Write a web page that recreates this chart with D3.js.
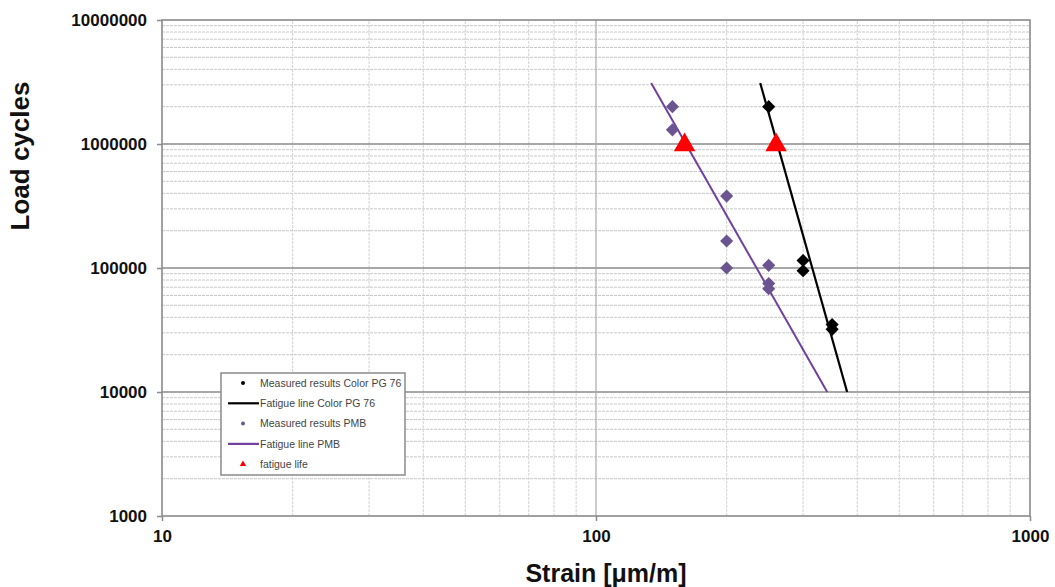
<!DOCTYPE html>
<html>
<head>
<meta charset="utf-8">
<script src="https://cdn.jsdelivr.net/npm/d3@7"></script>
<style>
  body { margin: 0; background: #fff; }
  svg { display: block; font-family: "Liberation Sans", Arial, sans-serif; }
</style>
</head>
<body>
<div id="chart"></div>
<script>
// values (strain in µm/m, load cycles)
const pmbStrain = [150, 150, 200, 200, 200, 250, 250, 250];
const pmbCycles = [2000000, 1300000, 380000, 165000, 100000, 105000, 75000, 68000];

const pgStrain = [250, 300, 300, 350, 350];
const pgCycles = [2000000, 115000, 95000, 35000, 32000];

const pmbLineStrain = [134, 341];
const pmbLineCycles = [3100000, 10000];

const pgLineStrain = [239, 379];
const pgLineCycles = [3100000, 10000];

const lifeStrain = [160, 260];
const lifeCycles = [1000000, 1000000];

const xTicks = [10, 100, 1000];
const yTicks = [1000, 10000, 100000, 1000000, 10000000];

const legendItems = [
  { label: 'Measured results Color PG 76', kind: 'dot', color: '#000' },
  { label: 'Fatigue line Color PG 76', kind: 'line', color: '#000' },
  { label: 'Measured results PMB', kind: 'dot', color: '#6b5590' },
  { label: 'Fatigue line PMB', kind: 'line', color: '#7040a0' },
  { label: 'fatigue life', kind: 'tri', color: '#ff0000' }
];

const W = 1055, H = 587;
const margin = { top: 20, right: 25, bottom: 71, left: 162 };

const svg = d3.select('#chart').append('svg')
  .attr('width', W).attr('height', H);

const x = d3.scaleLog().domain([10, 1000]).range([margin.left, W - margin.right]);
const y = d3.scaleLog().domain([1000, 10000000]).range([H - margin.bottom, margin.top]);

const x0 = x.range()[0], x1 = x.range()[1];
const y0 = y.range()[0], y1 = y.range()[1];

// minor grid
const minorX = [], minorY = [];
[10, 100].forEach(d => { for (let k = 2; k < 10; k++) minorX.push(d * k); });
[1000, 10000, 100000, 1000000].forEach(d => { for (let k = 2; k < 10; k++) minorY.push(d * k); });

svg.append('g')
  .selectAll('line')
  .data(minorY)
  .join('line')
  .attr('x1', x0).attr('x2', x1)
  .attr('y1', d => y(d)).attr('y2', d => y(d))
  .attr('stroke', '#c8c8c8')
  .attr('stroke-width', 1)
  .attr('stroke-dasharray', '3,1');

svg.append('g')
  .selectAll('line')
  .data(minorX)
  .join('line')
  .attr('x1', d => x(d)).attr('x2', d => x(d))
  .attr('y1', y0).attr('y2', y1)
  .attr('stroke', '#d2d2d2')
  .attr('stroke-width', 1)
  .attr('stroke-dasharray', '3,1');

// major grid
svg.append('g')
  .selectAll('line')
  .data(yTicks.slice(1, -1))
  .join('line')
  .attr('x1', x0).attr('x2', x1)
  .attr('y1', d => y(d)).attr('y2', d => y(d))
  .attr('stroke', '#8a8a8a')
  .attr('stroke-width', 1.6);

svg.append('g')
  .selectAll('line')
  .data(xTicks.slice(1, -1))
  .join('line')
  .attr('x1', d => x(d)).attr('x2', d => x(d))
  .attr('y1', y0).attr('y2', y1)
  .attr('stroke', '#a8a8a8')
  .attr('stroke-width', 1.2);

// frame
svg.append('rect')
  .attr('x', x0).attr('y', y1)
  .attr('width', x1 - x0).attr('height', y0 - y1)
  .attr('fill', 'none')
  .attr('stroke', '#8a8a8a')
  .attr('stroke-width', 1.6);

// axes
const xAxis = svg.append('g')
  .attr('transform', `translate(0,${y0})`)
  .call(d3.axisBottom(x).tickValues(xTicks).tickFormat(d3.format('d')).tickSize(5).tickPadding(9));
const yAxis = svg.append('g')
  .attr('transform', `translate(${x0},0)`)
  .call(d3.axisLeft(y).tickValues(yTicks).tickFormat(d3.format('d')).tickSize(5).tickPadding(10));

[xAxis, yAxis].forEach(a => {
  a.select('.domain').remove();
  a.selectAll('.tick line').attr('stroke', '#8a8a8a').attr('stroke-width', 1.5);
  a.selectAll('.tick text')
    .attr('fill', '#111')
    .style('font-size', '17px')
    .style('font-weight', 'bold');
});

// axis titles
svg.append('text')
  .attr('x', 606)
  .attr('y', 582)
  .attr('text-anchor', 'middle')
  .style('font-size', '25px')
  .style('font-weight', 'bold')
  .attr('fill', '#111')
  .text('Strain [\u03bcm/m]');

svg.append('text')
  .attr('transform', 'translate(29,156) rotate(-90)')
  .attr('text-anchor', 'middle')
  .style('font-size', '26px')
  .style('font-weight', 'bold')
  .attr('fill', '#111')
  .text('Load cycles');

// fatigue lines
const line = d3.line().x(d => x(d[0])).y(d => y(d[1]));

svg.append('path')
  .datum(d3.zip(pmbLineStrain, pmbLineCycles))
  .attr('d', line)
  .attr('fill', 'none')
  .attr('stroke', '#7040a0')
  .attr('stroke-width', 2);

svg.append('path')
  .datum(d3.zip(pgLineStrain, pgLineCycles))
  .attr('d', line)
  .attr('fill', 'none')
  .attr('stroke', '#000')
  .attr('stroke-width', 2.2);

// measured points
const diamond = d3.symbol().type(d3.symbolDiamond2).size(110);

svg.append('g')
  .selectAll('path')
  .data(d3.zip(pmbStrain, pmbCycles))
  .join('path')
  .attr('transform', d => `translate(${x(d[0])},${y(d[1])})`)
  .attr('d', diamond)
  .attr('fill', '#6b5590');

svg.append('g')
  .selectAll('path')
  .data(d3.zip(pgStrain, pgCycles))
  .join('path')
  .attr('transform', d => `translate(${x(d[0])},${y(d[1])})`)
  .attr('d', diamond)
  .attr('fill', '#000');

// fatigue life
svg.append('g')
  .selectAll('path')
  .data(d3.zip(lifeStrain, lifeCycles))
  .join('path')
  .attr('transform', d => `translate(${x(d[0])},${y(d[1]) + 1})`)
  .attr('d', d3.symbol().type(d3.symbolTriangle).size(200))
  .attr('fill', '#ff0000');

// legend
const lg = svg.append('g').attr('transform', 'translate(221,373)');
lg.append('rect')
  .attr('width', 184).attr('height', 102)
  .attr('fill', '#fff')
  .attr('stroke', '#8a8a8a')
  .attr('stroke-width', 1.5);

const row = lg.selectAll('g.row')
  .data(legendItems)
  .join('g')
  .attr('class', 'row')
  .attr('transform', (d, i) => `translate(0,${10 + i * 20.3})`);

row.filter(d => d.kind === 'line').append('line')
  .attr('x1', 7).attr('x2', 38)
  .attr('stroke', d => d.color)
  .attr('stroke-width', 2.2);
row.filter(d => d.kind === 'dot').append('circle')
  .attr('cx', 22).attr('r', 2)
  .attr('fill', d => d.color);
row.filter(d => d.kind === 'tri').append('path')
  .attr('transform', 'translate(22,0)')
  .attr('d', d3.symbol().type(d3.symbolTriangle).size(18))
  .attr('fill', d => d.color);

row.append('text')
  .attr('x', 39)
  .attr('dy', '0.35em')
  .style('font-size', '10.5px')
  .attr('fill', '#444')
  .text(d => d.label);
</script>
</body>
</html>
